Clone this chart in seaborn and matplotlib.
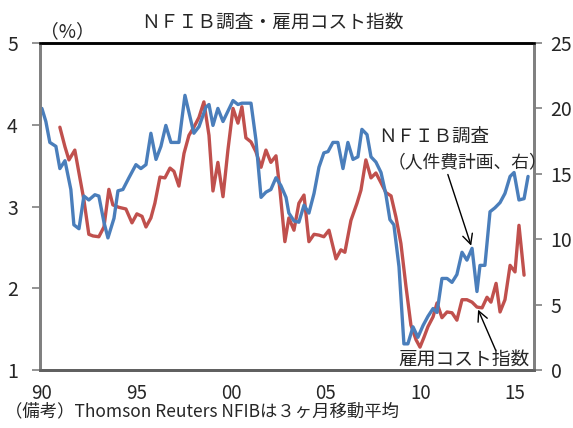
import matplotlib
matplotlib.use("Agg")
import matplotlib.pyplot as plt
import seaborn as sns
import pandas as pd

# NFIB survey: share planning higher labour costs (3-month moving average, right axis)
nfib_year = [1990.00, 1990.21, 1990.42, 1990.74, 1990.95, 1991.22, 1991.53, 1991.69, 1991.96,
             1992.22, 1992.48, 1992.80, 1993.01, 1993.28, 1993.49, 1993.81, 1994.02, 1994.28,
             1994.60, 1994.97, 1995.23, 1995.50, 1995.76, 1996.03, 1996.29, 1996.55, 1996.82,
             1997.24, 1997.56, 1998.03, 1998.30, 1998.67, 1998.83, 1999.04, 1999.30, 1999.57,
             2000.10, 2000.36, 2000.57, 2001.05, 2001.31, 2001.58, 2001.84, 2002.10, 2002.37,
             2002.63, 2002.90, 2003.05, 2003.32, 2003.58, 2003.85, 2004.11, 2004.38, 2004.64,
             2004.90, 2005.12, 2005.38, 2005.64, 2005.91, 2006.17, 2006.44, 2006.70, 2006.91,
             2007.18, 2007.39, 2007.65, 2007.92, 2008.18, 2008.39, 2008.60, 2008.87, 2009.13,
             2009.34, 2009.61, 2009.87, 2010.14, 2010.40, 2010.67, 2010.88, 2011.14, 2011.41,
             2011.67, 2011.93, 2012.20, 2012.46, 2012.73, 2012.99, 2013.15, 2013.41, 2013.68,
             2013.94, 2014.21, 2014.47, 2014.74, 2014.95, 2015.21, 2015.48, 2015.69]
nfib_value = [20.0, 19.0, 17.4, 17.1, 15.4, 16.0, 13.8, 11.1, 10.8,
              13.3, 13.0, 13.4, 13.3, 11.3, 10.1, 11.6, 13.7, 13.8,
              14.7, 15.7, 15.4, 15.7, 18.1, 16.1, 17.1, 18.7, 17.4,
              17.4, 21.0, 18.1, 18.6, 20.1, 20.3, 18.7, 20.0, 19.0,
              20.6, 20.3, 20.4, 20.4, 17.6, 13.2, 13.6, 13.8, 14.7,
              14.1, 13.2, 12.0, 11.4, 11.3, 12.6, 12.0, 13.5, 15.5,
              16.6, 16.7, 17.4, 17.4, 15.4, 17.4, 16.1, 16.3, 18.4,
              18.0, 16.3, 15.9, 15.1, 13.4, 11.5, 11.1, 7.9, 2.0,
              2.0, 3.3, 2.5, 3.4, 4.1, 4.7, 4.4, 7.0, 7.0,
              6.7, 7.3, 9.0, 8.4, 9.3, 6.0, 8.0, 8.0, 12.1,
              12.4, 12.8, 13.5, 14.8, 15.1, 13.0, 13.1, 14.8]

# Employment cost index, year-on-year % (left axis)
eci_year = [1990.95, 1991.22, 1991.43, 1991.74, 1991.96, 1992.22, 1992.48, 1992.70, 1993.01,
            1993.28, 1993.54, 1993.75, 1994.07, 1994.44, 1994.76, 1995.02, 1995.29, 1995.50,
            1995.76, 1995.97, 1996.24, 1996.50, 1996.77, 1996.98, 1997.24, 1997.51, 1997.77,
            1998.03, 1998.30, 1998.56, 1998.83, 1999.04, 1999.30, 1999.57, 1999.83, 2000.10,
            2000.36, 2000.57, 2000.78, 2001.05, 2001.31, 2001.58, 2001.84, 2002.10, 2002.37,
            2002.58, 2002.84, 2003.05, 2003.32, 2003.58, 2003.85, 2004.11, 2004.38, 2004.64,
            2004.90, 2005.17, 2005.54, 2005.80, 2006.01, 2006.33, 2006.65, 2006.86, 2007.12,
            2007.39, 2007.65, 2007.92, 2008.18, 2008.45, 2008.71, 2008.97, 2009.24, 2009.50,
            2009.77, 2009.98, 2010.19, 2010.40, 2010.67, 2010.88, 2011.14, 2011.41, 2011.67,
            2011.93, 2012.20, 2012.46, 2012.73, 2012.99, 2013.26, 2013.52, 2013.73, 2014.00,
            2014.21, 2014.47, 2014.74, 2015.00, 2015.21, 2015.48]
eci_value = [3.97, 3.73, 3.57, 3.69, 3.41, 3.08, 2.66, 2.64, 2.63,
             2.75, 3.21, 3.02, 2.99, 2.97, 2.80, 2.91, 2.88, 2.75,
             2.86, 3.04, 3.36, 3.35, 3.47, 3.43, 3.25, 3.65, 3.87,
             3.97, 4.09, 4.28, 3.87, 3.19, 3.54, 3.12, 3.69, 4.20,
             4.02, 4.22, 3.84, 3.79, 3.67, 3.48, 3.69, 3.54, 3.62,
             3.20, 2.57, 2.86, 2.71, 3.04, 3.14, 2.57, 2.66, 2.65,
             2.63, 2.71, 2.36, 2.47, 2.44, 2.83, 3.04, 3.20, 3.57,
             3.35, 3.41, 3.29, 3.17, 3.13, 2.87, 2.55, 2.02, 1.55,
             1.37, 1.28, 1.40, 1.53, 1.65, 1.82, 1.64, 1.71, 1.70,
             1.61, 1.86, 1.86, 1.83, 1.77, 1.76, 1.89, 1.83, 2.06,
             1.71, 1.86, 2.28, 2.20, 2.77, 2.16]

x_ticks = [1990, 1995, 2000, 2005, 2010, 2015]
x_tick_labels = ["90", "95", "00", "05", "10", "15"]
left_ticks = [1, 2, 3, 4, 5]
right_ticks = [0, 5, 10, 15, 20, 25]

BLUE = "#4A7EBB"
RED = "#C0504D"

sns.set_style("white")
plt.rcParams["font.family"] = ["Noto Sans CJK JP", "DejaVu Sans"]

nfib = pd.DataFrame({"year": nfib_year, "value": nfib_value})
eci = pd.DataFrame({"year": eci_year, "value": eci_value})

fig = plt.figure(figsize=(5.73, 4.28), dpi=100)
ax1 = fig.add_axes([0.0698, 0.1355, 0.862, 0.764])
ax2 = ax1.twinx()

sns.lineplot(data=eci, x="year", y="value", ax=ax1, color=RED, linewidth=2.4,
             sort=False, estimator=None)
sns.lineplot(data=nfib, x="year", y="value", ax=ax2, color=BLUE, linewidth=2.4,
             sort=False, estimator=None)
ax2.set_zorder(ax1.get_zorder() + 1)
ax1.patch.set_visible(True)
ax2.patch.set_visible(False)

ax1.set_xlim(1989.9, 2016.0)
ax1.set_ylim(1, 5)
ax2.set_ylim(0, 25)
ax1.set_xticks(x_ticks)
ax1.set_xticklabels(x_tick_labels)
ax1.set_yticks(left_ticks)
ax2.set_yticks(right_ticks)
for a in (ax1, ax2):
    a.set_xlabel("")
    a.set_ylabel("")

ax1.tick_params(axis="x", length=0, pad=9, labelsize=13.5)
ax1.tick_params(axis="y", length=6, width=1.2, color="#808080", pad=10, labelsize=14)
ax2.tick_params(axis="y", length=6, width=1.2, color="#808080", pad=6, labelsize=14)

for a in (ax1, ax2):
    a.spines["top"].set_color("black")
    a.spines["top"].set_linewidth(1.8)
    a.spines["left"].set_color("#808080")
    a.spines["left"].set_linewidth(2.0)
    a.spines["right"].set_color("#808080")
    a.spines["right"].set_linewidth(2.0)
    a.spines["bottom"].set_color("#606060")
    a.spines["bottom"].set_linewidth(2.0)

fig.text(0.475, 0.947, "ＮＦＩＢ調査・雇用コスト指数", ha="center", va="center", fontsize=13.5)
fig.text(0.070, 0.926, "（%）", ha="left", va="center", fontsize=13.5)
fig.text(0.008, 0.040, "（備考）Thomson Reuters NFIBは３ヶ月移動平均", ha="left", va="center",
         fontsize=12.5)

# labels for the two series with pointer arrows
ax2.text(0.685, 0.713, "ＮＦＩＢ調査", transform=ax2.transAxes, ha="left", va="center",
         fontsize=13.3)
ax2.text(0.703, 0.636, "（人件費計画、右）", transform=ax2.transAxes, ha="left", va="center",
         fontsize=12.8)
ax2.annotate("", xy=(nfib_year[85], nfib_value[85]), xycoords="data",
             xytext=(0.824, 0.606), textcoords="axes fraction",
             arrowprops=dict(arrowstyle="->", color="black", lw=1.0, mutation_scale=18))
ax1.text(0.725, 0.034, "雇用コスト指数", transform=ax1.transAxes, ha="left", va="center",
         fontsize=13.5, zorder=5)
ax1.annotate("", xy=(eci_year[85], eci_value[85]), xycoords="data",
             xytext=(0.925, 0.052), textcoords="axes fraction",
             arrowprops=dict(arrowstyle="->", color="black", lw=1.0, mutation_scale=18))

fig.savefig("out.png", dpi=100)
